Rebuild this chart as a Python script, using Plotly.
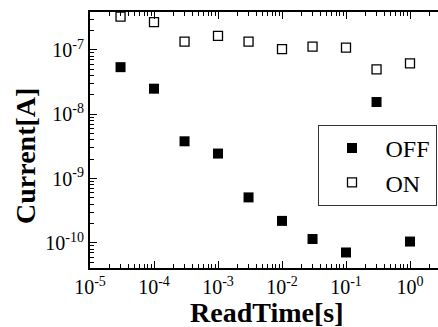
import plotly.graph_objects as go

read_time = [3e-5, 1e-4, 3e-4, 1e-3, 3e-3, 1e-2, 3e-2, 1e-1, 3e-1, 1e0]
off_current = [5.4e-8, 2.5e-8, 3.8e-9, 2.45e-9, 5.1e-10, 2.2e-10, 1.15e-10, 7.1e-11, 1.55e-8, 1.05e-10]
on_current = [3.3e-7, 2.7e-7, 1.35e-7, 1.65e-7, 1.35e-7, 1.03e-7, 1.13e-7, 1.09e-7, 5.0e-8, 6.2e-8]

x_tickvals = [1e-5, 1e-4, 1e-3, 1e-2, 1e-1, 1e0]
x_ticktext = ["10<sup>-5</sup>", "10<sup>-4</sup>", "10<sup>-3</sup>", "10<sup>-2</sup>", "10<sup>-1</sup>", "10<sup>0</sup>"]
y_tickvals = [1e-10, 1e-9, 1e-8, 1e-7]
y_ticktext = ["10<sup>-10</sup>", "10<sup>-9</sup>", "10<sup>-8</sup>", "10<sup>-7</sup>"]

FONT = "Liberation Serif"

fig = go.Figure()
fig.add_trace(go.Scatter(
    x=read_time, y=off_current, mode="markers", name="OFF",
    marker=dict(symbol="square", size=10, color="black", line=dict(width=0)),
))
fig.add_trace(go.Scatter(
    x=read_time, y=on_current, mode="markers", name="ON",
    marker=dict(symbol="square-open", size=9, color="black", line=dict(width=1.3, color="black")),
))

W, H = 438, 327
L, R, T, B = 90, 0, 12, 59
pw, ph = W - L - R, H - T - B

def px_x(px):
    return (px - L) / pw

def px_y(py):
    return (H - B - py) / ph

fig.update_layout(
    width=W, height=H,
    margin=dict(l=L, r=R, t=T, b=B, pad=0, autoexpand=False),
    paper_bgcolor="white", plot_bgcolor="white",
    font=dict(family=FONT, color="black", size=20),
    showlegend=True,
    legend=dict(
        x=px_x(436.5), y=px_y(125), xanchor="right", yanchor="top",
        bordercolor="#333333", borderwidth=1, bgcolor="white",
        font=dict(family=FONT, size=24, color="black"),
        itemwidth=57, tracegroupgap=0,
    ),
    xaxis=dict(
        type="log", range=[-5, -5 + pw / 64.0],
        tickmode="array", tickvals=x_tickvals, ticktext=x_ticktext,
        ticks="inside", ticklen=7, tickwidth=1.2, tickcolor="black",
        showline=True, linewidth=2, linecolor="black", mirror="ticks",
        showgrid=False, zeroline=False,
        tickfont=dict(family=FONT, size=20, color="black"),
        minor=dict(ticks="inside", ticklen=4, tickwidth=1, tickcolor="black", dtick="D1", showgrid=False),
    ),
    yaxis=dict(
        type="log", range=[-10.39, -6.41],
        tickmode="array", tickvals=y_tickvals, ticktext=y_ticktext,
        ticks="inside", ticklen=7, tickwidth=1.2, tickcolor="black",
        showline=True, linewidth=2, linecolor="black", mirror=False,
        showgrid=False, zeroline=False,
        tickfont=dict(family=FONT, size=20, color="black"),
        minor=dict(ticks="inside", ticklen=4, tickwidth=1, tickcolor="black", dtick="D1", showgrid=False),
    ),
    annotations=[
        dict(text="<b>ReadTime[s]</b>", xref="paper", yref="paper",
             x=px_x(266), y=px_y(312), xanchor="center", yanchor="middle",
             showarrow=False, font=dict(family=FONT, size=28, color="black")),
        dict(text="<b>Current[A]</b>", xref="paper", yref="paper",
             x=px_x(25), y=px_y(156), xanchor="center", yanchor="middle", textangle=-90,
             showarrow=False, font=dict(family=FONT, size=28, color="black")),
    ],
)

fig.write_html("out.html")
